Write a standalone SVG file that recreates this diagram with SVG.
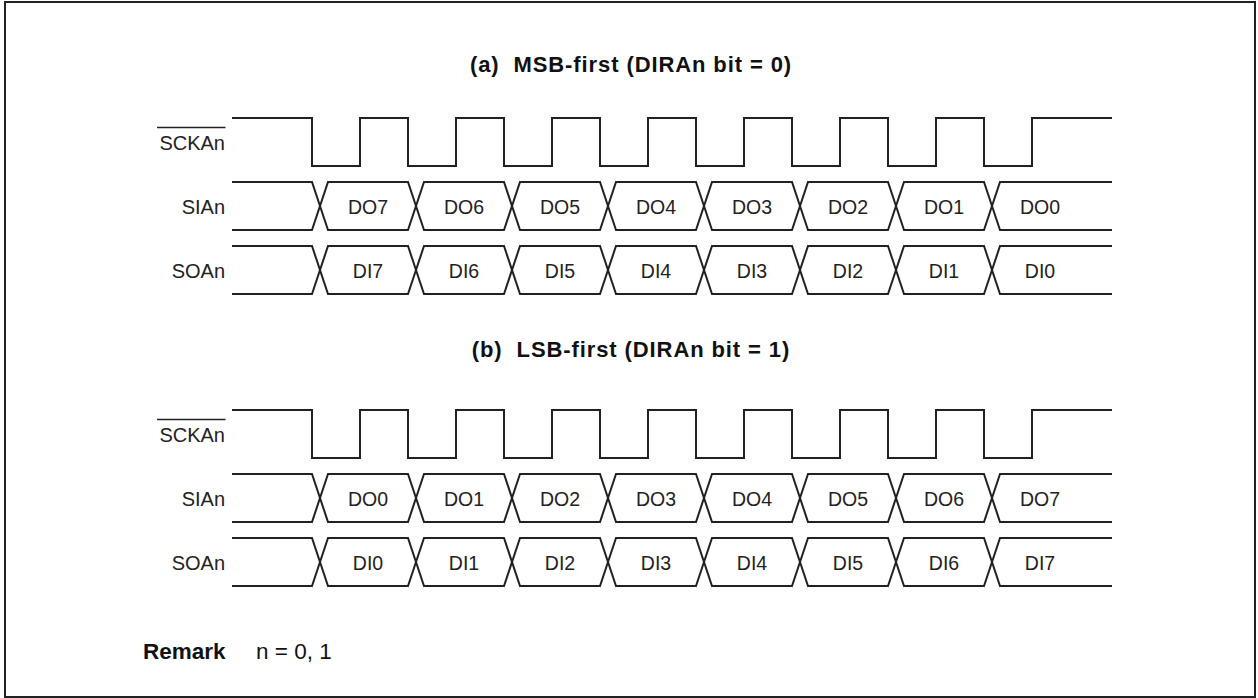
<svg xmlns="http://www.w3.org/2000/svg" width="1258" height="698" viewBox="0 0 1258 698">
<style>
.w{fill:none;stroke:#222;stroke-width:2;stroke-linejoin:miter}
.lbl{font-family:"Liberation Sans",Arial,sans-serif;font-size:20px;fill:#222;text-anchor:end}
.d{font-family:"Liberation Sans",Arial,sans-serif;font-size:19.5px;fill:#222;text-anchor:middle}
.t{font-family:"Liberation Sans",Arial,sans-serif;font-size:22px;font-weight:bold;fill:#111;text-anchor:middle;letter-spacing:0.9px}
.r{font-family:"Liberation Sans",Arial,sans-serif;font-size:22.5px;fill:#111}
</style>
<rect x="5" y="2" width="1250" height="695" fill="#fff" stroke="#222" stroke-width="2"/>

<g id="title-a"><text class="t" x="631" y="72">(a)&#160; MSB-first (DIRAn bit = 0)</text></g>

<g id="section-a">
<g id="sck-a">
<text class="lbl" x="225" y="150">SCKAn</text>
<line x1="157" y1="127.5" x2="225.5" y2="127.5" stroke="#222" stroke-width="1.3"/>
<path class="w" d="M232,118 H312 V166 H360 V118 H408 V166 H456 V118 H504 V166 H552 V118 H600 V166 H648 V118 H696 V166 H744 V118 H792 V166 H840 V118 H888 V166 H936 V118 H984 V166 H1032 V118 H1112"/>
</g>
<g id="si-a">
<text class="lbl" x="225" y="213.5">SIAn</text>
<path class="w" d="M232,182 H312 L328,230 H408 L424,182 H504 L520,230 H600 L616,182 H696 L712,230 H792 L808,182 H888 L904,230 H984 L1000,182 H1112"/>
<path class="w" d="M232,230 H312 L328,182 H408 L424,230 H504 L520,182 H600 L616,230 H696 L712,182 H792 L808,230 H888 L904,182 H984 L1000,230 H1112"/>
<text class="d" x="368" y="213.5">DO7</text>
<text class="d" x="464" y="213.5">DO6</text>
<text class="d" x="560" y="213.5">DO5</text>
<text class="d" x="656" y="213.5">DO4</text>
<text class="d" x="752" y="213.5">DO3</text>
<text class="d" x="848" y="213.5">DO2</text>
<text class="d" x="944" y="213.5">DO1</text>
<text class="d" x="1040" y="213.5">DO0</text>
</g>
<g id="so-a">
<text class="lbl" x="225" y="277.5">SOAn</text>
<path class="w" d="M232,246 H312 L328,294 H408 L424,246 H504 L520,294 H600 L616,246 H696 L712,294 H792 L808,246 H888 L904,294 H984 L1000,246 H1112"/>
<path class="w" d="M232,294 H312 L328,246 H408 L424,294 H504 L520,246 H600 L616,294 H696 L712,246 H792 L808,294 H888 L904,246 H984 L1000,294 H1112"/>
<text class="d" x="368" y="277.5">DI7</text>
<text class="d" x="464" y="277.5">DI6</text>
<text class="d" x="560" y="277.5">DI5</text>
<text class="d" x="656" y="277.5">DI4</text>
<text class="d" x="752" y="277.5">DI3</text>
<text class="d" x="848" y="277.5">DI2</text>
<text class="d" x="944" y="277.5">DI1</text>
<text class="d" x="1040" y="277.5">DI0</text>
</g>
</g>

<g id="title-b"><text class="t" x="631" y="357">(b)&#160; LSB-first (DIRAn bit = 1)</text></g>

<g id="section-b" transform="translate(0,292)">
<g id="sck-b">
<text class="lbl" x="225" y="150">SCKAn</text>
<line x1="157" y1="127.5" x2="225.5" y2="127.5" stroke="#222" stroke-width="1.3"/>
<path class="w" d="M232,118 H312 V166 H360 V118 H408 V166 H456 V118 H504 V166 H552 V118 H600 V166 H648 V118 H696 V166 H744 V118 H792 V166 H840 V118 H888 V166 H936 V118 H984 V166 H1032 V118 H1112"/>
</g>
<g id="si-b">
<text class="lbl" x="225" y="213.5">SIAn</text>
<path class="w" d="M232,182 H312 L328,230 H408 L424,182 H504 L520,230 H600 L616,182 H696 L712,230 H792 L808,182 H888 L904,230 H984 L1000,182 H1112"/>
<path class="w" d="M232,230 H312 L328,182 H408 L424,230 H504 L520,182 H600 L616,230 H696 L712,182 H792 L808,230 H888 L904,182 H984 L1000,230 H1112"/>
<text class="d" x="368" y="213.5">DO0</text>
<text class="d" x="464" y="213.5">DO1</text>
<text class="d" x="560" y="213.5">DO2</text>
<text class="d" x="656" y="213.5">DO3</text>
<text class="d" x="752" y="213.5">DO4</text>
<text class="d" x="848" y="213.5">DO5</text>
<text class="d" x="944" y="213.5">DO6</text>
<text class="d" x="1040" y="213.5">DO7</text>
</g>
<g id="so-b">
<text class="lbl" x="225" y="277.5">SOAn</text>
<path class="w" d="M232,246 H312 L328,294 H408 L424,246 H504 L520,294 H600 L616,246 H696 L712,294 H792 L808,246 H888 L904,294 H984 L1000,246 H1112"/>
<path class="w" d="M232,294 H312 L328,246 H408 L424,294 H504 L520,246 H600 L616,294 H696 L712,246 H792 L808,294 H888 L904,246 H984 L1000,294 H1112"/>
<text class="d" x="368" y="277.5">DI0</text>
<text class="d" x="464" y="277.5">DI1</text>
<text class="d" x="560" y="277.5">DI2</text>
<text class="d" x="656" y="277.5">DI3</text>
<text class="d" x="752" y="277.5">DI4</text>
<text class="d" x="848" y="277.5">DI5</text>
<text class="d" x="944" y="277.5">DI6</text>
<text class="d" x="1040" y="277.5">DI7</text>
</g>
</g>

<g id="remark">
<text class="r" x="143" y="659"><tspan font-weight="bold">Remark</tspan><tspan x="256">n = 0, 1</tspan></text>
</g>
</svg>
